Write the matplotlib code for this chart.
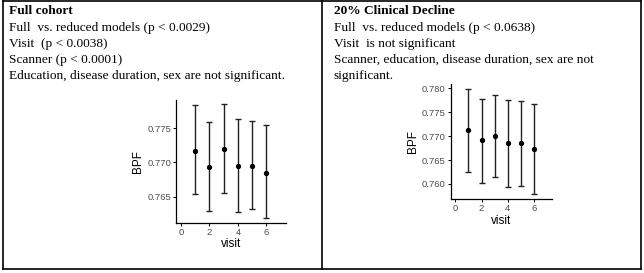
import matplotlib
matplotlib.use("Agg")
import matplotlib.pyplot as plt
from matplotlib.lines import Line2D

W, H = 644, 273
DPI = 100

visits = [1, 2, 3, 4, 5, 6]
full_mean = [0.7717, 0.7693, 0.7719, 0.7694, 0.7695, 0.7685]
full_upper = [0.7783, 0.7759, 0.7785, 0.7763, 0.7761, 0.7754]
full_lower = [0.7654, 0.7629, 0.7655, 0.7627, 0.7632, 0.7619]

decl_mean = [0.7712, 0.7691, 0.7701, 0.7685, 0.7685, 0.7673]
decl_upper = [0.7799, 0.7778, 0.7786, 0.7776, 0.7774, 0.7768]
decl_lower = [0.7625, 0.7603, 0.7614, 0.7593, 0.7595, 0.7579]

full_yticks = [0.765, 0.770, 0.775]
decl_yticks = [0.760, 0.765, 0.770, 0.775, 0.780]
xticks = [0, 2, 4, 6]

left_lines = [
    ("Full cohort", "bold"),
    ("Full  vs. reduced models (p < 0.0029)", "normal"),
    ("Visit  (p < 0.0038)", "normal"),
    ("Scanner (p < 0.0001)", "normal"),
    ("Education, disease duration, sex are not significant.", "normal"),
]
right_lines = [
    ("20% Clinical Decline", "bold"),
    ("Full  vs. reduced models (p < 0.0638)", "normal"),
    ("Visit  is not significant", "normal"),
    ("Scanner, education, disease duration, sex are not", "normal"),
    ("significant.", "normal"),
]

fig = plt.figure(figsize=(W / DPI, H / DPI), dpi=DPI)
fig.patch.set_facecolor("white")

def fx(px):
    return px / W

def fy(py):
    return 1 - py / H

# table borders
lw = 1.2
for (x0, y0, x1, y1) in [(3, 1, 641, 1), (3, 269, 641, 269), (3, 1, 3, 269),
                         (641, 1, 641, 269), (322, 1, 322, 269)]:
    fig.add_artist(Line2D([fx(x0), fx(x1)], [fy(y0), fy(y1)], color="black", lw=lw))

serif = ["Liberation Serif", "DejaVu Serif"]
baselines = [14.5, 31, 47, 63, 79]
for (txt, wt), by in zip(left_lines, baselines):
    fig.text(fx(9), fy(by), txt, family=serif, fontsize=9.6, fontweight=wt,
             va="baseline", ha="left", color="black")
for (txt, wt), by in zip(right_lines, baselines):
    fig.text(fx(334), fy(by), txt, family=serif, fontsize=9.6, fontweight=wt,
             va="baseline", ha="left", color="black")

sans = ["Liberation Sans", "DejaVu Sans"]

def make_panel(rect, mean, lower, upper, yticks, ylim):
    ax = fig.add_axes(rect)
    yerr = [[m - l for m, l in zip(mean, lower)], [u - m for m, u in zip(mean, upper)]]
    ax.errorbar(visits, mean, yerr=yerr, fmt="o", color="black", ecolor="#222222",
                markersize=2.8, elinewidth=1.0, capsize=2.2, capthick=1.0)
    ax.set_xlim(-0.35, 7.35)
    ax.set_ylim(*ylim)
    ax.set_xticks(xticks)
    ax.set_xticklabels([str(t) for t in xticks])
    ax.set_yticks(yticks)
    ax.set_yticklabels([f"{t:.3f}" for t in yticks])
    for s in ["top", "right"]:
        ax.spines[s].set_visible(False)
    for s in ["left", "bottom"]:
        ax.spines[s].set_linewidth(0.9)
    ax.tick_params(length=2, width=0.7, labelsize=6.8, labelcolor="#4d4d4d", pad=1.5)
    for lab in ax.get_xticklabels() + ax.get_yticklabels():
        lab.set_family(sans)
    ax.set_xlabel("visit", family=sans, fontsize=8.5, labelpad=1)
    ax.set_ylabel("BPF", family=sans, fontsize=8.5, labelpad=2)
    ax.set_facecolor("white")
    return ax

make_panel([fx(176), fy(222.7), fx(285.7) - fx(176), (222.7 - 100) / H],
           full_mean, full_lower, full_upper, full_yticks, (0.7612, 0.7791))
make_panel([fx(450.7), fy(199.3), fx(551.7) - fx(450.7), (199.3 - 84) / H],
           decl_mean, decl_lower, decl_upper, decl_yticks, (0.7568, 0.7809))

fig.savefig("out.png", dpi=DPI, facecolor="white")
